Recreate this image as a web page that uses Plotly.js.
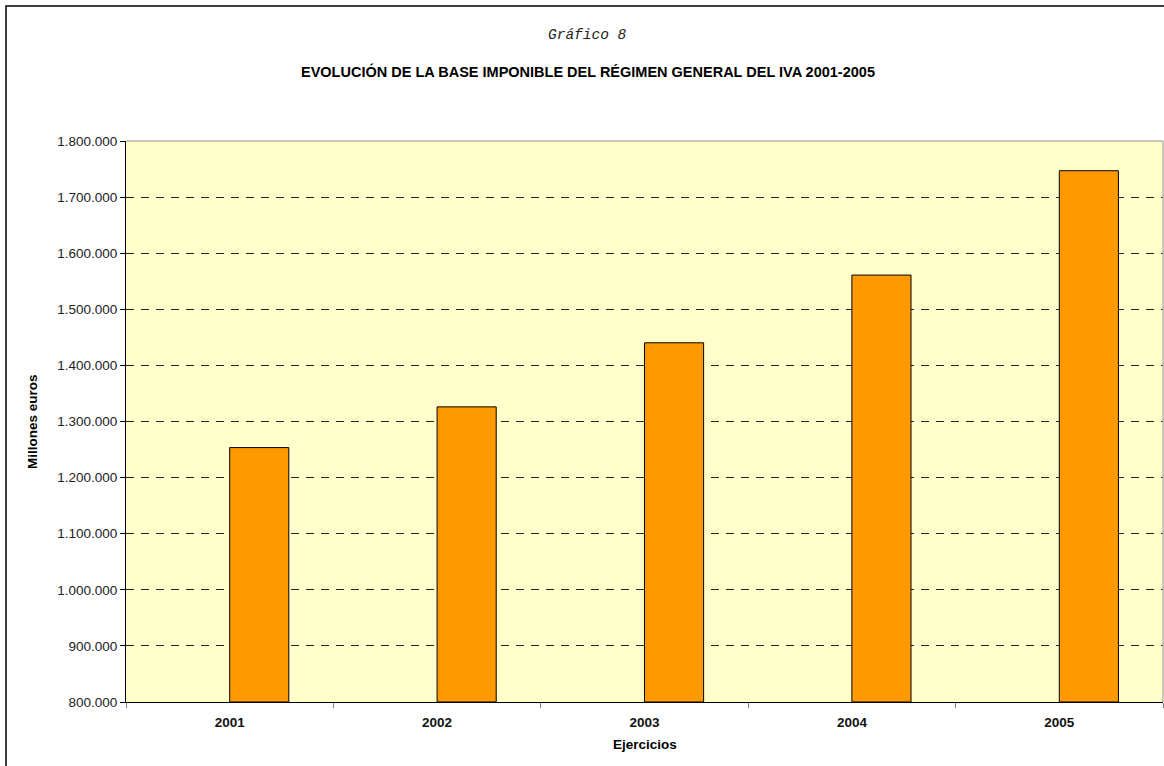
<!DOCTYPE html>
<html>
<head>
<meta charset="utf-8">
<script src="https://cdn.plot.ly/plotly-3.0.1.min.js"></script>
<style>html,body{margin:0;padding:0;background:#fff;}#chart{width:1164px;height:766px;}</style>
</head>
<body>
<div id="chart"></div>
<script>
const years = ['2001', '2002', '2003', '2004', '2005'];
const baseImponible = [1253500, 1326100, 1440300, 1561000, 1747000];
const yTicks = [800000, 900000, 1000000, 1100000, 1200000, 1300000, 1400000, 1500000, 1600000, 1700000, 1800000];
const axisFloor = 800000;

const trace = {
  type: 'bar',
  x: years,
  y: baseImponible.map(v => v - axisFloor),
  base: axisFloor,
  offset: 0,
  width: 0.285,
  marker: {color: '#FF9900', line: {color: '#000000', width: 1}},
  hoverinfo: 'x+y'
};

const layout = {
  width: 1164, height: 766,
  margin: {l: 126, r: 1, t: 141, b: 64},
  paper_bgcolor: '#ffffff',
  plot_bgcolor: '#FFFFCC',
  separators: ',.',
  showlegend: false,
  font: {family: 'Liberation Sans, Arial, sans-serif', color: '#000'},
  xaxis: {
    type: 'category',
    range: [-0.5, 4.5],
    tickson: 'boundaries',
    ticks: 'outside', ticklen: 5, tickcolor: '#808080',
    ticklabelstandoff: 8,
    showline: true, linecolor: '#000', linewidth: 1,
    showgrid: false,
    tickfont: {size: 13.5, family: 'Liberation Sans, Arial, sans-serif', weight: 'bold', color: '#111'},
    zeroline: false
  },
  yaxis: {
    range: [800000, 1800000],
    tickmode: 'array', tickvals: yTicks,
    tickformat: ',d',
    ticks: 'outside', ticklen: 5, tickcolor: '#000',
    showline: true, linecolor: '#000', linewidth: 1,
    showgrid: true, gridcolor: '#222', gridwidth: 1, griddash: '8px,7px',
    tickfont: {size: 13.5, color: '#222'},
    zeroline: false
  },
  shapes: [
    {type: 'line', xref: 'paper', yref: 'paper', x0: 0, x1: 1, y0: 1, y1: 1, line: {color: '#909090', width: 1}, layer: 'above'},
    {type: 'line', xref: 'paper', yref: 'paper', x0: 1, x1: 1, y0: 0, y1: 1, line: {color: '#909090', width: 1}, layer: 'above'},
    {type: 'rect', xref: 'paper', yref: 'paper', x0: -0.1157, x1: 1.2, y0: -0.3, y1: 1.2406, line: {color: '#000', width: 1.5}, fillcolor: 'rgba(0,0,0,0)'}
  ],
  annotations: [
    {text: 'Gráfico 8', xref: 'paper', yref: 'paper', x: 0.4455, y: 1.189, xanchor: 'center', yanchor: 'middle', showarrow: false,
     font: {family: 'Liberation Mono, Courier New, monospace', size: 14.5, style: 'italic', color: '#222'}},
    {text: '<b>EVOLUCIÓN DE LA BASE IMPONIBLE DEL RÉGIMEN GENERAL DEL IVA 2001-2005</b>', xref: 'paper', yref: 'paper', x: 0.4455, y: 1.123, xanchor: 'center', yanchor: 'middle', showarrow: false,
     font: {size: 14.5, color: '#000'}},
    {text: '<b>Millones euros</b>', xref: 'paper', yref: 'paper', x: -0.0897, y: 0.501, xanchor: 'center', yanchor: 'middle', textangle: -90, showarrow: false,
     font: {size: 13.5, color: '#000'}},
    {text: '<b>Ejercicios</b>', xref: 'paper', yref: 'paper', x: 0.5, y: -0.076, xanchor: 'center', yanchor: 'middle', showarrow: false,
     font: {size: 13.5, color: '#000'}}
  ]
};

Plotly.newPlot('chart', [trace], layout, {displayModeBar: false, staticPlot: true});
</script>
</body>
</html>
